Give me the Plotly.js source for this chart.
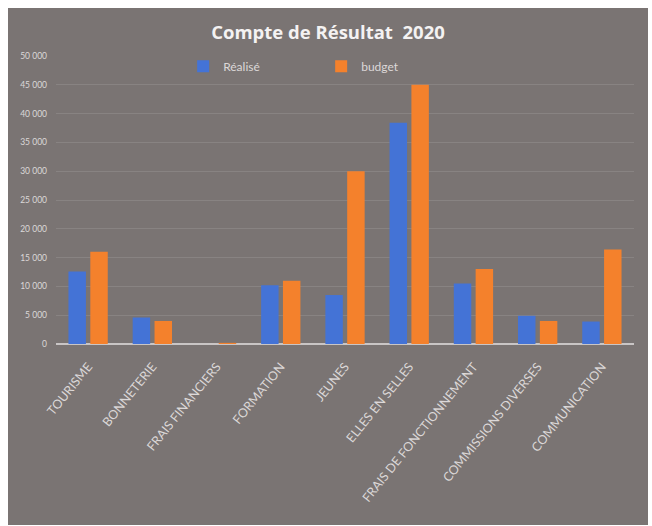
<!DOCTYPE html>
<html>
<head>
<meta charset="utf-8">
<script src="https://cdn.plot.ly/plotly-3.0.1.min.js"></script>
<style>
  html, body { margin: 0; padding: 0; background: #ffffff; }
  #chart { position: absolute; left: 8px; top: 8px; width: 640px; height: 517px; }
</style>
</head>
<body>
<div id="chart"></div>
<script>
const categories = ["TOURISME", "BONNETERIE", "FRAIS FINANCIERS", "FORMATION", "JEUNES",
  "ELLES EN SELLES", "FRAIS DE FONCTIONNEMENT", "COMMISSIONS DIVERSES", "COMMUNICATION"];
const realise = [12600, 4600, 0, 10200, 8500, 38400, 10500, 4900, 3900];
const budget  = [16000, 4000, 200, 11000, 30000, 45000, 13000, 4000, 16400];
const seriesNames = ["Réalisé", "budget"];
const titleText = "Compte de Résultat\u00a0 2020";

const bg = "#7a7473";
const txt = "#dcd8d8";
const labelFont = "Lato, Liberation Sans, sans-serif";

const traces = [
  { type: "bar", name: seriesNames[0], x: categories, y: realise,
    marker: { color: "#4473d6" } },
  { type: "bar", name: seriesNames[1], x: categories, y: budget,
    marker: { color: "#f4812c" } }
];

const layout = {
  width: 640, height: 517,
  paper_bgcolor: bg, plot_bgcolor: bg,
  margin: { l: 48, r: 14, t: 48, b: 181 },
  title: { text: titleText, x: 0.5, xanchor: "center", y: 0.953, yanchor: "middle",
    font: { family: "Open Sans, DejaVu Sans, sans-serif", size: 18.5, color: "#f4f2f2", weight: "bold" } },
  barmode: "group", bargap: 0.32, bargroupgap: 0.2,
  separators: ". ",
  showlegend: true,
  legend: { orientation: "h", x: 0.22, xanchor: "left", y: 1.015, yanchor: "top",
    bgcolor: "rgba(0,0,0,0)", entrywidth: 93, entrywidthmode: "pixels", itemwidth: 30,
    font: { family: labelFont, size: 12, color: txt } },
  xaxis: { type: "category", tickangle: -51, showgrid: false, ticks: "",
    showline: false, zeroline: false, ticklabelstandoff: 12,
    tickfont: { family: labelFont, size: 12.5, color: txt } },
  yaxis: { range: [0, 50000], dtick: 5000, tickformat: ",d",
    showgrid: true, gridcolor: "rgba(255,255,255,0.11)", gridwidth: 1,
    zeroline: true, zerolinecolor: "#c9c5c5", zerolinewidth: 2,
    ticks: "", ticklabelstandoff: 8,
    tickfont: { family: labelFont, size: 8.5, color: txt } }
};

Plotly.newPlot("chart", traces, layout, { displayModeBar: false, staticPlot: true });
</script>
</body>
</html>
